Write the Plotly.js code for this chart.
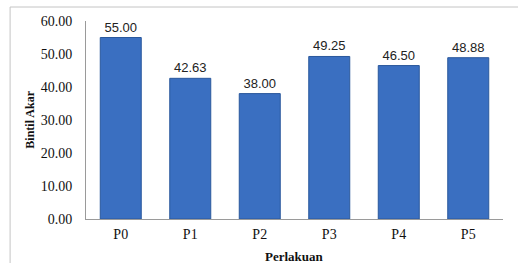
<!DOCTYPE html>
<html><head><meta charset="utf-8">
<script src="https://cdn.plot.ly/plotly-3.0.1.min.js"></script>
<style>html,body{margin:0;padding:0;background:#fff;}#c{width:518px;height:263px;}</style>
</head><body><div id="c"></div>
<script>
const categories = ["P0","P1","P2","P3","P4","P5"];
const values = [55.00, 42.63, 38.00, 49.25, 46.50, 48.88];
const valueLabels = ["55.00","42.63","38.00","49.25","46.50","48.88"];
const yTickVals = [0,10,20,30,40,50,60];
const yTickText = ["0.00","10.00","20.00","30.00","40.00","50.00","60.00"];

const serif = "Liberation Serif, Times New Roman, serif";
const trace = {
  type: "bar", x: categories, y: values,
  text: valueLabels, textposition: "outside", cliponaxis: false,
  textfont: {family: "Liberation Sans, Arial, sans-serif", size: 13, color: "#222"},
  marker: {color: "#3a6fc1", line: {color: "#2a589c", width: 1}},
  hoverinfo: "none"
};
const layout = {
  width: 518, height: 263,
  margin: {l: 86, r: 15, t: 21, b: 44},
  paper_bgcolor: "#fff", plot_bgcolor: "#fff",
  bargap: 0.41, showlegend: false,
  xaxis: {
    automargin: false,
    showline: true, linecolor: "#9a9a9a", linewidth: 1, ticks: "", showgrid: false, zeroline: false,
    tickfont: {family: serif, size: 14, color: "#111"}, ticklabelstandoff: 2
  },
  yaxis: {
    automargin: false,
    range: [0, 60], tickvals: yTickVals, ticktext: yTickText,
    showline: true, linecolor: "#9a9a9a", linewidth: 1, ticks: "", showgrid: false, zeroline: false,
    tickfont: {family: serif, size: 14, color: "#111"}, ticklabelstandoff: 10
  },
  annotations: [
    {text: "<b>Bintil Akar</b>", xref: "paper", yref: "paper", x: -0.135, y: 0.5, textangle: -90,
     xanchor: "center", yanchor: "middle",
     showarrow: false, font: {family: serif, size: 12, color: "#111"}},
    {text: "<b>Perlakuan</b>", xref: "paper", yref: "paper", x: 0.5, y: -0.19, yanchor: "middle",
     showarrow: false, font: {family: serif, size: 13, color: "#111"}}
  ],
  shapes: [
    {type: "line", xref: "paper", yref: "paper", x0: -0.182, x1: 1.1, y0: 1.0707, y1: 1.0707,
     line: {color: "#c4c4c4", width: 1}},
    {type: "line", xref: "paper", yref: "paper", x0: -0.182, x1: -0.182, y0: 1.0707, y1: -0.3,
     line: {color: "#c4c4c4", width: 1}}
  ]
};
Plotly.newPlot("c", [trace], layout, {staticPlot: true, displayModeBar: false});
</script></body></html>
